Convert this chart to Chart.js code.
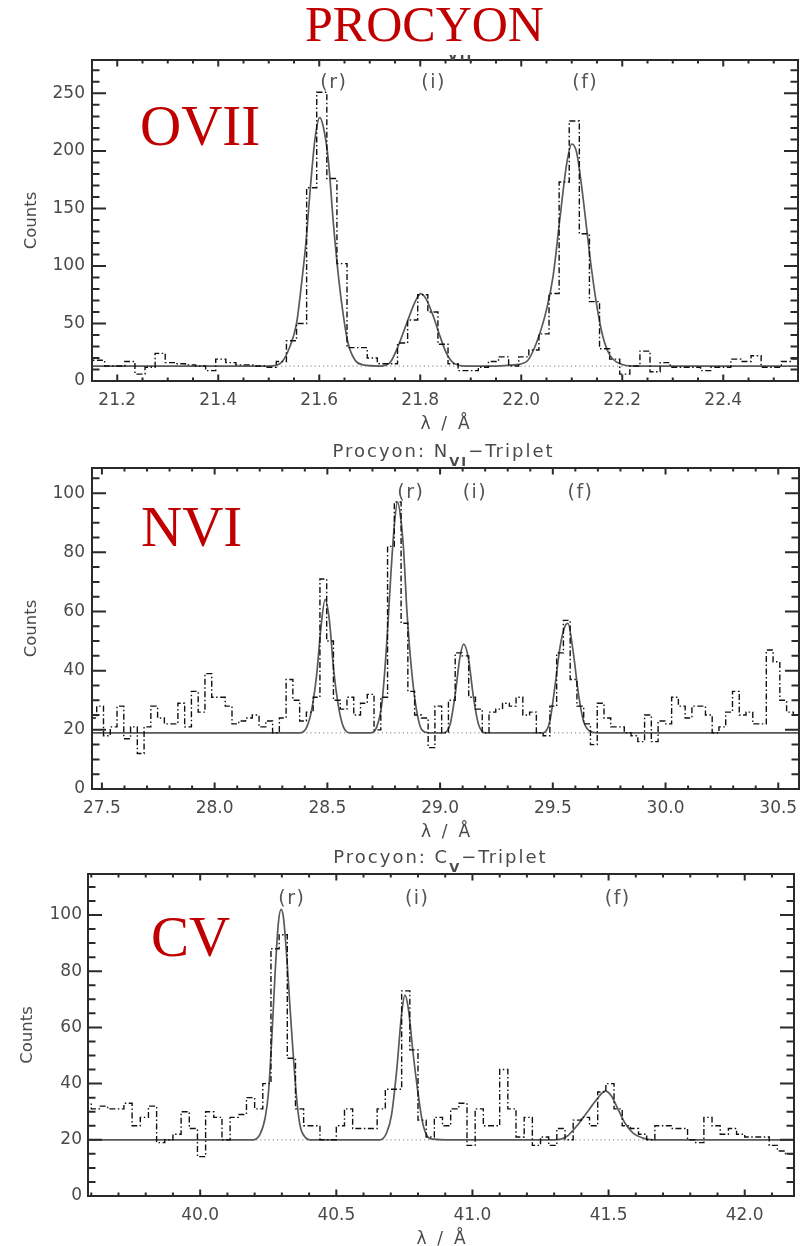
<!DOCTYPE html>
<html>
<head>
<meta charset="utf-8">
<script src="https://cdn.jsdelivr.net/npm/chart.js@4.4.1/dist/chart.umd.min.js"></script>
<style>
  html, body { margin: 0; padding: 0; background: #fff; }
  body { width: 804px; height: 1246px; position: relative; overflow: hidden; }
  canvas { position: absolute; left: 0; z-index: 1; }
  .banner { position: absolute; left: 0; top: 0; width: 804px; height: 55px; background: #fff; z-index: 4; }
  .star { position: absolute; left: 0; top: -1px; width: 849px; text-align: center;
          font: 50px/50px "Liberation Serif", "Times New Roman", serif; color: #c00000; }
  .ion { position: absolute; font: 57px/57px "Liberation Serif", "Times New Roman", serif; color: #c00000; z-index: 3; }
  .sub { position: absolute; left: 0; text-align: center; z-index: 2;
         font: 18px/18px "DejaVu Sans", sans-serif; color: #4a4a4a; letter-spacing: 2px; }
  .sub b { font-size: 13px; position: relative; top: 9px; }
</style>
</head>
<body>
<div class="banner"><div class="star">PROCYON</div></div>

<div class="sub" style="top:36px; width:890px;">Procyon: O<b>VII</b>−Triplet</div>
<div class="sub" style="top:442px; width:887px;">Procyon: N<b>VI</b>−Triplet</div>
<div class="sub" style="top:848px; width:881px;">Procyon: C<b>V</b>−Triplet</div>

<div class="ion" style="left:140px; top:97px;">OVII</div>
<div class="ion" style="left:141px; top:498px;">NVI</div>
<div class="ion" style="left:151px; top:908px;">CV</div>

<canvas id="ovii" width="804" height="380" style="top:56px"></canvas>
<canvas id="nvi" width="804" height="380" style="top:466px"></canvas>
<canvas id="cv" width="804" height="384" style="top:872px"></canvas>

<script>
// O VII triplet: 0.02 A bins starting at 21.135 A
const oviiBinStart = 21.135
const oviiBinWidth = 0.02
const oviiCounts = [18, 18, 13, 13, 17, 6, 12, 24, 16, 15, 14, 13, 9, 19, 16, 14, 14, 13, 12, 17,
    35, 50, 168, 251, 176, 102, 29, 29, 20, 15, 15, 33, 53, 75, 60, 32, 15, 9, 9, 12,
    17, 21, 13, 21, 27, 41, 76, 173, 226, 128, 69, 28, 19, 6, 13, 26, 8, 16, 12, 12,
    12, 9, 12, 12, 19, 17, 22, 12, 12, 17, 19]
const oviiFitWave = [21.15, 21.50, 21.522, 21.542, 21.555, 21.565, 21.574, 21.582, 21.592, 21.601,
    21.608, 21.618, 21.628, 21.638, 21.648, 21.657, 21.671, 21.687, 21.720, 21.740,
    21.756, 21.773, 21.790, 21.801, 21.812, 21.826, 21.839, 21.852, 21.865, 21.891,
    21.950, 21.985, 22.011, 22.030, 22.050, 22.063, 22.077, 22.090, 22.100, 22.110,
    22.123, 22.136, 22.149, 22.162, 22.176, 22.196, 22.222, 22.55]
const oviiFitCounts = [13, 13, 15, 30, 50, 85, 122, 166, 212, 229,
    221, 192, 137, 91, 56, 33, 18, 14, 13, 16,
    30, 50, 69, 76, 71, 56, 39, 24, 16, 13,
    13, 14, 17, 33, 62, 91, 143, 189, 206, 198,
    157, 108, 67, 38, 22, 15, 13, 13]
const oviiContinuum = 13
const oviiLines = [21.602, 21.802, 22.101]
const oviiXTicks = [21.2, 21.4, 21.6, 21.8, 22.0, 22.2, 22.4]
const oviiYTicks = [0, 50, 100, 150, 200, 250]

// N VI triplet: 0.03 A bins
const nviBinStart = 27.447
const nviBinWidth = 0.03
const nviCounts = [24, 28, 18, 21, 28, 17, 21, 12, 21, 28, 24, 22, 22, 29, 21, 33, 26, 39, 31, 31,
    28, 22, 23, 24, 25, 21, 23, 19, 24, 37, 30, 23, 26, 31, 71, 50, 30, 27, 31, 25,
    29, 32, 20, 31, 82, 97, 56, 33, 25, 24, 14, 28, 19, 30, 46, 45, 31, 27, 19, 26,
    27, 29, 28, 31, 25, 26, 19, 18, 28, 46, 57, 37, 28, 22, 15, 29, 24, 21, 21, 19,
    18, 16, 25, 16, 23, 22, 31, 28, 24, 28, 28, 25, 19, 21, 26, 33, 25, 26, 22, 22,
    47, 43, 30, 26, 25]
const nviFitWave = [27.45, 28.38, 28.409, 28.431, 28.453, 28.472, 28.490, 28.509, 28.527, 28.549,
    28.571, 28.601, 28.690, 28.719, 28.742, 28.764, 28.782, 28.798, 28.811, 28.823,
    28.838, 28.853, 28.875, 28.897, 28.919, 28.949, 29.015, 29.045, 29.067, 29.089,
    29.105, 29.126, 29.148, 29.170, 29.200, 29.457, 29.487, 29.510, 29.532, 29.554,
    29.567, 29.591, 29.614, 29.636, 29.665, 29.695, 30.60]
const nviFitCounts = [19, 19, 21, 27, 39, 55, 64, 57, 41, 28,
    21, 19, 19, 21, 29, 50, 73, 90, 97, 93,
    81, 60, 39, 26, 20, 19, 19, 22, 32, 45,
    49, 44, 31, 22, 19, 19, 23, 35, 48, 55,
    56, 46, 32, 23, 19.5, 19, 19]
const nviContinuum = 19
const nviLines = [28.81, 29.10, 29.565]
const nviXTicks = [27.5, 28.0, 28.5, 29.0, 29.5, 30.0, 30.5]
const nviYTicks = [0, 20, 40, 60, 80, 100]

// C V triplet: 0.03 A bins
const cvBinStart = 39.57
const cvBinWidth = 0.03
const cvCounts = [33, 31, 32, 31, 31, 33, 25, 28, 32, 19, 20, 22, 30, 24, 14, 30, 28, 20, 28, 29,
    35, 31, 40, 88, 93, 49, 31, 25, 25, 20, 20, 25, 31, 24, 24, 24, 31, 38, 38, 73,
    52, 27, 21, 28, 25, 31, 33, 18, 31, 25, 25, 45, 31, 21, 28, 18, 21, 18, 24, 20,
    27, 28, 25, 37, 40, 31, 25, 24, 22, 20, 25, 25, 24, 24, 20, 19, 28, 25, 22, 24,
    22, 21, 21, 21, 18, 16, 15]
const cvFitWave = [39.58, 40.196, 40.220, 40.239, 40.251, 40.263, 40.275, 40.287, 40.297, 40.306,
    40.318, 40.330, 40.342, 40.355, 40.367, 40.385, 40.404, 40.661, 40.685, 40.703,
    40.722, 40.740, 40.752, 40.764, 40.783, 40.801, 40.815, 40.830, 40.848, 40.900,
    41.300, 41.346, 41.382, 41.419, 41.456, 41.488, 41.511, 41.535, 41.560, 41.590,
    41.626, 41.663, 42.19]
const cvFitCounts = [20, 20, 22, 28, 37, 56, 79, 97, 102, 99,
    85, 67, 50, 34, 25, 21, 20, 20, 22.5, 29,
    45, 65, 71.5, 67, 50, 36, 27, 22, 20.3, 20,
    20, 21.2, 24.8, 29.5, 34.3, 37.3, 35.5, 30.8, 26, 22.4,
    20.6, 20, 20]
const cvContinuum = 20
const cvLines = [40.287, 40.752, 41.486]
const cvXTicks = [40.0, 40.5, 41.0, 41.5, 42.0]
const cvYTicks = [0, 20, 40, 60, 80, 100]

const lineNames = ['(r)', '(i)', '(f)']

Chart.defaults.font.family = "'DejaVu Sans', sans-serif"
Chart.defaults.color = '#4a4a4a'
Chart.defaults.animation = false

function histogramPoints(start, width, counts) {
    let pts = counts.map((c, i) => ({ x: start + i * width, y: c }))
    pts.push({ x: start + counts.length * width, y: counts[counts.length - 1] })
    return pts
}

function pairPoints(xs, ys) {
    return xs.map((x, i) => ({ x: x, y: ys[i] }))
}

// tick values from min to max every `minor`, with a flag for the major ones
function tickValues(min, max, minor, major) {
    let out = []
    let first = Math.ceil(min / minor - 1e-6)
    let last = Math.floor(max / minor + 1e-6)
    for (let i = first; i <= last; i++) {
        let r = (i * minor) / major
        out.push({ v: i * minor, major: Math.abs(r - Math.round(r)) < 1e-6 })
    }
    return out
}

// box frame with inward ticks on all four sides, plus the line ids
function idlFrame(s) {
    const xTickList = tickValues(s.xMin, s.xMax, s.xMinor, s.xMajor)
    const yTickList = tickValues(0, s.yMax, s.yMinor, s.yMajor)
    return {
        id: 'idlFrame',
        afterDraw(chart) {
            const ctx = chart.ctx
            const a = chart.chartArea
            const xs = chart.scales.x, ys = chart.scales.y
            ctx.save()
            ctx.setLineDash([])
            ctx.strokeStyle = '#2a2a2a'
            ctx.lineWidth = 2
            ctx.beginPath()
            for (const t of xTickList) {
                let px = xs.getPixelForValue(t.v)
                let len = t.major ? 6.5 : 3.5
                ctx.moveTo(px, a.bottom)
                ctx.lineTo(px, a.bottom - len)
                ctx.moveTo(px, a.top)
                ctx.lineTo(px, a.top + len)
            }
            for (const t of yTickList) {
                let py = ys.getPixelForValue(t.v)
                let len = t.major ? 14 : 7.5
                ctx.moveTo(a.left, py)
                ctx.lineTo(a.left + len, py)
                ctx.moveTo(a.right, py)
                ctx.lineTo(a.right - len, py)
            }
            ctx.stroke()
            ctx.lineWidth = 2
            ctx.strokeRect(a.left, a.top, a.right - a.left, a.bottom - a.top)
            ctx.fillStyle = '#555'
            ctx.font = "19px 'DejaVu Sans'"
            ctx.letterSpacing = '1.5px'
            ctx.textBaseline = 'alphabetic'
            s.lines.forEach((w, i) => ctx.fillText(lineNames[i], xs.getPixelForValue(w), a.top + s.nameDrop))
            ctx.restore()
        }
    }
}

function drawSpectrum(id, s) {
    return new Chart(document.getElementById(id), {
        type: 'line',
        data: {
            datasets: [
                {
                    data: histogramPoints(s.binStart, s.binWidth, s.counts),
                    stepped: 'before', borderColor: '#111', borderWidth: 1.4,
                    borderDash: [6, 2.5, 1.5, 2.5], pointRadius: 0, order: 0, clip: 0
                },
                {
                    data: pairPoints(s.fitWave, s.fitCounts),
                    cubicInterpolationMode: 'monotone', borderColor: '#5a5a5a', borderWidth: 1.7,
                    pointRadius: 0, order: 1, clip: 0
                },
                {
                    data: [{ x: s.xMin, y: s.continuum }, { x: s.xMax, y: s.continuum }],
                    borderColor: '#999', borderWidth: 1.2, borderDash: [1.2, 3],
                    pointRadius: 0, order: 2, clip: 0
                }
            ]
        },
        options: {
            responsive: false,
            devicePixelRatio: 1,
            events: [],
            layout: { padding: { top: s.padTop, right: s.padRight, left: 0, bottom: 0 } },
            plugins: {
                legend: { display: false },
                tooltip: { enabled: false }
            },
            scales: {
                x: {
                    type: 'linear', min: s.xMin, max: s.xMax,
                    afterBuildTicks: sc => { sc.ticks = s.xTicks.map(v => ({ value: v })) },
                    afterFit: sc => { sc.height = s.axisHeight; sc.paddingLeft = 0; sc.paddingRight = 0 },
                    grid: { display: false, drawTicks: false },
                    border: { display: false },
                    ticks: { padding: 9, autoSkip: false, maxRotation: 0, font: { size: 17 },
                             callback: v => v.toFixed(1) },
                    title: { display: true, text: 'λ  /  Å', font: { size: 17 },
                             padding: { top: 0, bottom: s.lambdaPad } }
                },
                y: {
                    type: 'linear', min: 0, max: s.yMax,
                    afterBuildTicks: sc => { sc.ticks = s.yTicks.map(v => ({ value: v })) },
                    afterFit: sc => { sc.width = s.left; sc.paddingTop = 0; sc.paddingBottom = 0 },
                    grid: { display: false, drawTicks: false },
                    border: { display: false },
                    ticks: { padding: s.yPad, autoSkip: false, font: { size: 17 } },
                    title: { display: true, text: 'Counts', font: { size: 16.5 },
                             padding: { top: s.countsPad, bottom: 0 } }
                }
            }
        },
        plugins: [idlFrame(s)]
    })
}

drawSpectrum('ovii', {
    binStart: oviiBinStart, binWidth: oviiBinWidth, counts: oviiCounts,
    fitWave: oviiFitWave, fitCounts: oviiFitCounts, continuum: oviiContinuum,
    lines: oviiLines, xTicks: oviiXTicks, yTicks: oviiYTicks,
    xMin: 21.15, xMax: 22.548, yMax: 279,
    xMinor: 0.05, xMajor: 0.2, yMinor: 10, yMajor: 50,
    left: 92, padTop: 4, padRight: 6, axisHeight: 55,
    lambdaPad: 1, countsPad: 22, yPad: 7, nameDrop: 28
})

drawSpectrum('nvi', {
    binStart: nviBinStart, binWidth: nviBinWidth, counts: nviCounts,
    fitWave: nviFitWave, fitCounts: nviFitCounts, continuum: nviContinuum,
    lines: nviLines, xTicks: nviXTicks, yTicks: nviYTicks,
    xMin: 27.456, xMax: 30.592, yMax: 108.5,
    xMinor: 0.1, xMajor: 0.5, yMinor: 5, yMajor: 20,
    left: 92, padTop: 2, padRight: 5, axisHeight: 57,
    lambdaPad: 3, countsPad: 22, yPad: 7, nameDrop: 29.5
})

drawSpectrum('cv', {
    binStart: cvBinStart, binWidth: cvBinWidth, counts: cvCounts,
    fitWave: cvFitWave, fitCounts: cvFitCounts, continuum: cvContinuum,
    lines: cvLines, xTicks: cvXTicks, yTicks: cvYTicks,
    xMin: 39.588, xMax: 42.181, yMax: 114.6,
    xMinor: 0.1, xMajor: 0.5, yMinor: 5, yMajor: 20,
    left: 88, padTop: 2, padRight: 10, axisHeight: 60,
    lambdaPad: 6, countsPad: 18, yPad: 6, nameDrop: 29.5
})
</script>
</body>
</html>
